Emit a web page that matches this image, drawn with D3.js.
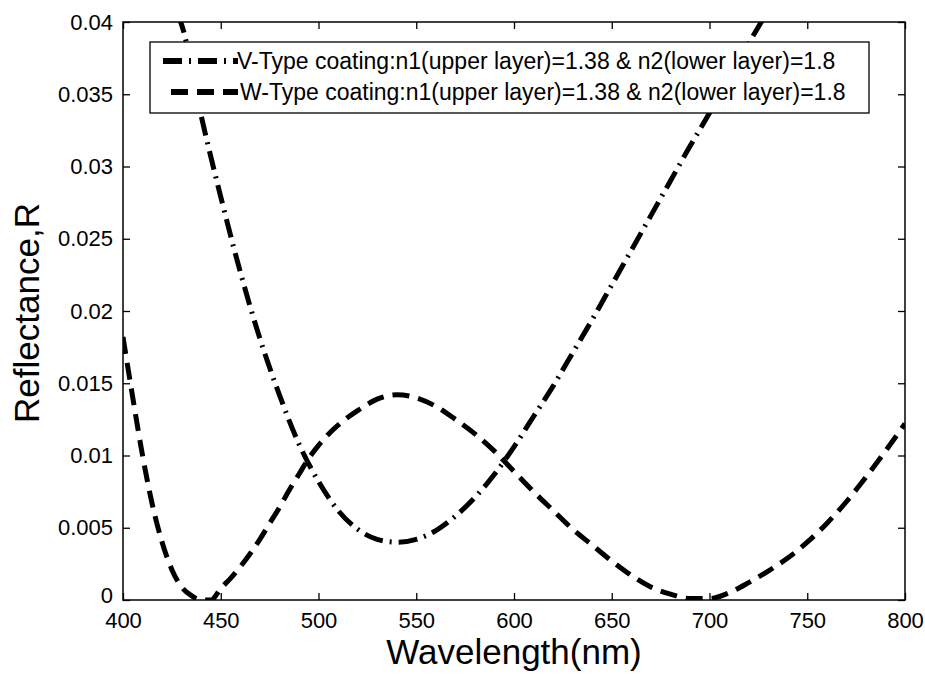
<!DOCTYPE html>
<html>
<head>
<meta charset="utf-8">
<script src="https://cdn.jsdelivr.net/npm/d3@7"></script>
<style>
  body { margin: 0; background: #fff; }
  text { font-family: "Liberation Sans", Arial, sans-serif; fill: #000; }
</style>
</head>
<body>
<svg width="925" height="674"></svg>
<script>
// V-type coating (dash-dot)
const vWave = [428, 430, 440, 450, 460, 470, 480, 490, 500, 510, 520, 530, 540, 550, 560, 570, 580, 590, 600, 610, 620, 630, 640, 650, 660, 670, 680, 690, 700, 710, 720, 730];
const vRefl = [0.0405, 0.0398, 0.0335, 0.0279, 0.0227, 0.0181, 0.0142, 0.0108, 0.0082, 0.0062, 0.0049, 0.0042, 0.0040, 0.0042, 0.0048, 0.0058, 0.0071, 0.0087, 0.0106, 0.0127, 0.0148, 0.0171, 0.0194, 0.0218, 0.0242, 0.0266, 0.0290, 0.0314, 0.0337, 0.0361, 0.0385, 0.0408];

// W-type coating (dashed)
const wWave = [400, 405, 410, 415, 420, 425, 430, 435, 440, 445, 450, 455, 460, 465, 470, 475, 480, 485, 490, 495, 500, 510, 520, 530, 540, 550, 560, 570, 580, 590, 600, 610, 620, 630, 640, 650, 660, 670, 680, 690, 700, 710, 720, 730, 740, 750, 760, 770, 780, 790, 800];
const wRefl = [0.0182, 0.0140, 0.0100, 0.0066, 0.0040, 0.0021, 0.0009, 0.0003, 0.0000, 0.0000, 0.0008, 0.0015, 0.0023, 0.0032, 0.0042, 0.0053, 0.0064, 0.0076, 0.0087, 0.0098, 0.0107, 0.0121, 0.0131, 0.0139, 0.0142, 0.0140, 0.0134, 0.0125, 0.0115, 0.0103, 0.0089, 0.0075, 0.0062, 0.0049, 0.0038, 0.0027, 0.0017, 0.0009, 0.0004, 0.0001, 0.0001, 0.0005, 0.0012, 0.0020, 0.0029, 0.0040, 0.0053, 0.0068, 0.0085, 0.0103, 0.0122];

const xTicks = [400, 450, 500, 550, 600, 650, 700, 750, 800];
const yTicks = [0, 0.005, 0.01, 0.015, 0.02, 0.025, 0.03, 0.035, 0.04];
const yTickLabels = ["0", "0.005", "0.01", "0.015", "0.02", "0.025", "0.03", "0.035", "0.04"];
const legendLabels = [
  "V-Type coating:n1(upper layer)=1.38 & n2(lower layer)=1.8",
  "W-Type coating:n1(upper layer)=1.38 & n2(lower layer)=1.8",
];

const plotLeft = 123, plotTop = 22, plotW = 782, plotH = 578;

const svg = d3.select("svg");
const x = d3.scaleLinear().domain([400, 800]).range([plotLeft, plotLeft + plotW]);
const y = d3.scaleLinear().domain([0, 0.04]).range([plotTop + plotH, plotTop]);

svg.append("defs").append("clipPath").attr("id", "plotclip")
  .append("rect").attr("x", plotLeft).attr("y", plotTop).attr("width", plotW).attr("height", plotH);

// axes, ticks pointing inwards like matlab
const gx = svg.append("g").attr("transform", `translate(0,${plotTop + plotH})`)
  .call(d3.axisBottom(x).tickValues(xTicks).tickSizeInner(-7).tickSizeOuter(0).tickPadding(12));
const gy = svg.append("g").attr("transform", `translate(${plotLeft},0)`)
  .call(d3.axisLeft(y).tickValues(yTicks).tickFormat((d, i) => yTickLabels[i]).tickSizeInner(-7).tickSizeOuter(0).tickPadding(10));
const gt = svg.append("g").attr("transform", `translate(0,${plotTop})`)
  .call(d3.axisTop(x).tickValues(xTicks).tickFormat("").tickSizeInner(-7).tickSizeOuter(0));
const gr = svg.append("g").attr("transform", `translate(${plotLeft + plotW},0)`)
  .call(d3.axisRight(y).tickValues(yTicks).tickFormat("").tickSizeInner(-7).tickSizeOuter(0));

[gx, gy, gt, gr].forEach((g) => {
  g.select(".domain").remove();
  g.selectAll(".tick line").attr("stroke", "#000").attr("stroke-width", 1.3);
  g.selectAll(".tick text").style("font-size", "22px").attr("fill", "#000");
});
// the "0" label sits right on the corner, lift it a touch so it clears "400"
gy.selectAll(".tick text").filter((d) => d === 0).attr("dy", "0.1em");

svg.append("rect")
  .attr("x", plotLeft).attr("y", plotTop).attr("width", plotW).attr("height", plotH)
  .attr("fill", "none").attr("stroke", "#000").attr("stroke-width", 1.5);

const line = d3.line().x((d) => x(d[0])).y((d) => y(d[1])).curve(d3.curveMonotoneX);

const plot = svg.append("g").attr("clip-path", "url(#plotclip)");
plot.append("path")
  .attr("d", line(vWave.map((w, i) => [w, vRefl[i]])))
  .attr("fill", "none").attr("stroke", "#000").attr("stroke-width", 5)
  .attr("stroke-dasharray", "19,7,2,7");
plot.append("path")
  .attr("d", line(wWave.map((w, i) => [w, wRefl[i]])))
  .attr("fill", "none").attr("stroke", "#000").attr("stroke-width", 5)
  .attr("stroke-dasharray", "17,9");

// legend
const legend = svg.append("g");
legend.append("rect")
  .attr("x", 150).attr("y", 42).attr("width", 719).attr("height", 71)
  .attr("fill", "#fff").attr("stroke", "#000").attr("stroke-width", 1.3);
const dashes = ["19,7,2,7", "17,9"];
const rowX = [163, 171];
legendLabels.forEach((label, i) => {
  const ry = 61 + i * 31;
  legend.append("line")
    .attr("x1", rowX[i]).attr("x2", 238).attr("y1", ry).attr("y2", ry)
    .attr("stroke", "#000").attr("stroke-width", 6).attr("stroke-dasharray", dashes[i]);
  legend.append("text")
    .attr("x", 237 + i * 3).attr("y", ry + 8)
    .style("font-size", "23px")
    .text(label);
});

// axis titles
svg.append("text")
  .attr("x", plotLeft + plotW / 2).attr("y", 664)
  .attr("text-anchor", "middle").style("font-size", "35px")
  .text("Wavelength(nm)");
svg.append("text")
  .attr("transform", `translate(39,${plotTop + plotH / 2 + 2}) rotate(-90)`)
  .attr("text-anchor", "middle").style("font-size", "35px")
  .text("Reflectance,R");
</script>
</body>
</html>
